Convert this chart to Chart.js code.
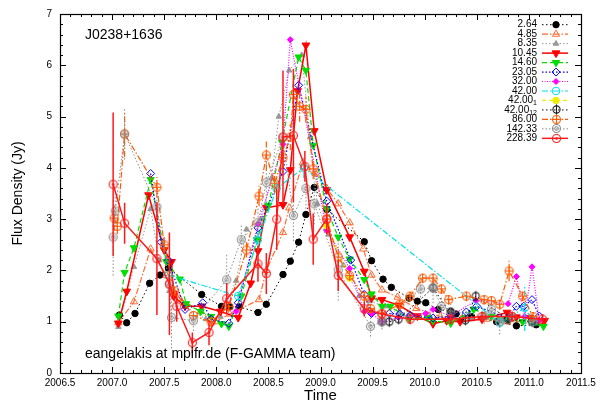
<!DOCTYPE html>
<html><head><meta charset="utf-8">
<script src="https://cdn.jsdelivr.net/npm/chart.js@4.4.1/dist/chart.umd.min.js"></script>
<style>html,body{margin:0;padding:0;background:#fff}canvas{display:block}</style>
</head><body>
<canvas id="c" width="605" height="405"></canvas>
<script>
// ---------------- data (time in years, flux density in Jy) ----------------
const sourceName = 'J0238+1636';
const creditText = 'eangelakis at mpifr.de (F-GAMMA team)';
const xTitle = 'Time';
const yTitle = 'Flux Density (Jy)';
const seriesLabels = ['2.64','4.85','8.35','10.45','14.60','23.05','32.00','42.00','42.00\u2081','42.00\u2081\u2082','86.00','142.33','228.39'];
const xRange = [2006.5, 2011.5];
const yRange = [0, 7];

const f2_64 = [[2007.07,1.13],[2007.14,0.98],[2007.22,1.16],[2007.36,1.75],[2007.46,1.91],[2007.54,2.05],[2007.86,1.53],[2008.05,1.30],[2008.13,1.29],[2008.22,1.29],[2008.40,1.18],[2008.48,1.34],[2008.64,1.92],[2008.71,2.18],[2008.79,2.55],[2008.86,3.09],[2008.94,3.62],[2009.06,3.19],[2009.42,2.56],[2009.49,2.19],[2009.60,1.83],[2009.68,1.67],[2009.85,1.46],[2009.93,1.40],[2010.01,1.37],[2010.13,1.24],[2010.25,1.20],[2010.30,1.15],[2010.45,1.10],[2010.69,1.00],[2010.88,0.92],[2011.07,0.94]];
const f4_85 = [[2007.06,0.98],[2007.21,1.39],[2007.37,2.42],[2007.52,1.90],[2007.65,1.45],[2007.85,1.20],[2007.99,1.00],[2008.13,1.15],[2008.41,1.43],[2008.48,2.00],[2008.64,2.74],[2008.70,3.22],[2008.83,4.10],[2008.95,3.90],[2009.06,3.60],[2009.17,3.30],[2009.28,2.93],[2009.41,2.42],[2009.49,1.91],[2009.59,1.62],[2009.74,1.48],[2009.92,1.26],[2010.15,1.10],[2010.35,1.05],[2010.59,1.05],[2010.79,1.00],[2011.10,1.00]];
const f8_35 = [[2007.06,0.90],[2007.21,2.07],[2007.37,3.20],[2007.45,2.20],[2007.55,1.60],[2007.70,1.30],[2007.90,1.05],[2008.04,1.10],[2008.19,1.80],[2008.29,2.80],[2008.43,3.00],[2008.53,3.80],[2008.60,5.00],[2008.70,5.90],[2008.82,6.20],[2008.90,4.60],[2008.97,3.30],[2009.08,2.70],[2009.22,2.10],[2009.37,1.50],[2009.47,1.40],[2009.62,1.30],[2009.76,1.20],[2009.86,1.15],[2010.05,1.10],[2010.25,1.10],[2010.45,1.05],[2010.75,1.05],[2010.95,1.00]];
const f10_45 = [[2007.06,0.97],[2007.14,1.59],[2007.35,3.47],[2007.50,2.40],[2007.57,2.17],[2007.59,1.50],[2007.70,1.30],[2007.86,1.30],[2008.04,1.20],[2008.21,1.08],[2008.33,1.75],[2008.40,2.38],[2008.48,3.22],[2008.64,3.28],[2008.71,3.96],[2008.78,5.50],[2008.86,6.39],[2008.94,4.72],[2009.06,3.57],[2009.28,2.65],[2009.42,1.98],[2009.49,1.46],[2009.59,1.43],[2009.75,1.32],[2009.93,1.11],[2010.08,0.96],[2010.21,1.02],[2010.34,1.00],[2010.55,1.05],[2010.79,1.18],[2010.88,1.09],[2011.01,1.08],[2011.15,1.02]];
const f14_60 = [[2007.06,1.11],[2007.12,1.96],[2007.21,2.44],[2007.37,3.77],[2007.52,2.17],[2007.65,1.83],[2007.71,1.35],[2007.85,1.20],[2007.95,1.10],[2008.05,0.96],[2008.12,0.91],[2008.24,1.50],[2008.39,2.60],[2008.50,3.27],[2008.63,4.50],[2008.79,6.16],[2008.86,5.90],[2008.93,4.44],[2009.06,3.20],[2009.17,2.65],[2009.28,2.22],[2009.42,1.82],[2009.49,1.54],[2009.59,1.30],[2009.67,1.30],[2009.85,1.05],[2010.03,1.08],[2010.08,1.02],[2010.25,0.97],[2010.47,1.24],[2010.64,1.10],[2010.79,1.05],[2010.94,1.00],[2011.14,0.91]];
const f23_05 = [[2007.37,3.89],[2007.47,2.55],[2007.54,2.20],[2007.70,1.24],[2007.87,1.37],[2007.95,1.05],[2008.12,0.97],[2008.21,1.37],[2008.40,2.83],[2008.64,3.93],[2008.79,5.61],[2009.06,3.35],[2009.29,2.20],[2009.42,1.53],[2009.49,1.16],[2009.66,1.16],[2009.76,1.15],[2009.86,1.12],[2010.08,1.07],[2010.25,1.10],[2010.40,1.19],[2010.50,1.30],[2010.80,1.07],[2010.88,1.30],[2010.95,1.30],[2011.03,1.43],[2011.10,1.11]];
const f32_00 = [[2008.19,1.20],[2008.40,2.90],[2008.64,4.46],[2008.71,6.50],[2009.06,2.78],[2009.28,2.04],[2009.42,1.20],[2009.49,1.16],[2009.59,1.00],[2009.75,1.08],[2010.01,1.16],[2010.08,1.24],[2010.25,1.11],[2010.49,1.41],[2010.80,1.35],[2010.88,1.88],[2010.96,1.10],[2011.03,2.07],[2011.10,1.03]];
const f42_00 = [[2007.54,1.91],[2008.21,1.50],[2008.40,2.60],[2008.58,3.60],[2008.84,4.00],[2010.72,0.98],[2010.96,1.27],[2011.04,1.00]];
const f42_00_1 = [[2009.06,2.87],[2009.28,1.85]];
const f42_00_12 = [[2009.59,1.00],[2009.66,1.00],[2009.75,1.05],[2010.08,1.66],[2010.25,1.15],[2010.39,1.03],[2010.49,1.50],[2010.80,1.05],[2011.03,1.00]];
const f86_00 = [[2007.02,3.02],[2007.05,2.86],[2007.12,4.66],[2007.43,3.62],[2007.50,2.50],[2007.60,1.60],[2007.78,1.12],[2007.95,1.00],[2008.12,1.30],[2008.29,2.40],[2008.41,3.45],[2008.48,4.25],[2008.56,3.70],[2008.64,4.20],[2008.71,4.60],[2008.74,5.43],[2008.80,5.20],[2008.86,5.14],[2008.93,3.98],[2009.06,3.00],[2009.17,2.26],[2009.28,1.90],[2009.42,1.50],[2009.48,1.26],[2009.59,1.16],[2009.76,1.34],[2009.86,1.50],[2009.98,1.85],[2010.08,1.85],[2010.16,1.64],[2010.23,1.43],[2010.40,1.50],[2010.57,1.43],[2010.64,1.41],[2010.72,1.34],[2010.81,1.99],[2010.94,1.50],[2011.04,1.10]];
const f142_33 = [[2007.01,2.65],[2007.03,3.16],[2007.12,4.66],[2007.43,3.24],[2007.55,1.72],[2007.57,1.08],[2007.78,1.02],[2008.10,1.82],[2008.24,2.60],[2008.40,2.93],[2008.48,3.72],[2008.64,4.60],[2008.74,3.07],[2008.86,3.60],[2008.94,3.30],[2009.17,2.01],[2009.48,0.91],[2009.59,1.00],[2009.96,1.64],[2010.08,1.66],[2010.16,1.30],[2010.25,1.20],[2010.57,1.11],[2010.64,1.24],[2010.72,1.00],[2010.84,1.10],[2011.04,1.00]];
const f228_39 = [[2007.01,3.68],[2007.12,2.92],[2007.43,2.23],[2007.55,1.74],[2007.62,1.30],[2007.77,0.59],[2007.93,0.79],[2008.10,1.45],[2008.40,2.13],[2008.48,1.94],[2008.58,3.00],[2008.64,4.60],[2008.74,4.63],[2008.85,4.03],[2008.93,2.61],[2009.06,3.00],[2009.17,1.90],[2009.42,1.25],[2009.59,1.15],[2009.86,1.05],[2010.25,1.05],[2010.55,1.10],[2010.84,1.10],[2011.13,1.05]];

// flux uncertainties (Jy), same order as the series points
const e42_00 = [0.1,0.1,0.2,0.2,0.2,0.1,0.45,0.1];
const e86_00 = [0.25,0.15,0.45,0.2,0.15,0.1,0.1,0.1,0.1,0.15,0.2,0.3,0.2,0.2,0.25,0.3,0.3,0.25,0.2,0.15,0.15,0.1,0.1,0.1,0.1,0.1,0.1,0.1,0.1,0.1,0.1,0.1,0.1,0.1,0.1,0.2,0.1,0.1];
const e142_33 = [0.75,0.3,0.5,0.3,0.3,0.6,0.2,0.5,0.3,0.3,0.4,0.5,0.5,0.4,0.4,0.6,0.2,0.15,0.3,0.3,0.2,0.15,0.15,0.2,0.25,0.1,0.1];
const e228_39 = [1.4,0.4,1.1,1.0,0.3,0.2,0.25,0.3,0.35,0.4,0.6,1.3,1.3,0.3,0.5,0.3,0.3,0.15,0.1,0.1,0.1,0.1,0.1,0.1];

const seriesData = [f2_64,f4_85,f8_35,f10_45,f14_60,f23_05,f32_00,f42_00,f42_00_1,f42_00_12,f86_00,f142_33,f228_39];
const seriesErrors = [null,null,null,null,null,null,null,e42_00,null,null,e86_00,e142_33,e228_39];

// ---------------- styles ----------------
const FONT = '"Liberation Sans", Arial, Helvetica, sans-serif';
function makeMarker(kind, color, r) {
  const s = Math.ceil(2 * r + 5);
  const c = document.createElement('canvas'); c.width = s; c.height = s;
  const g = c.getContext('2d'); const m = s / 2;
  g.strokeStyle = color; g.fillStyle = color; g.lineWidth = 1.1;
  g.beginPath(); g.arc(m, m, r, 0, Math.PI * 2); g.stroke();
  if (kind === 'bar') { g.beginPath(); g.moveTo(m, m - r - 1.5); g.lineTo(m, m + r + 1.5); g.stroke(); }
  if (kind === 'plus') { g.beginPath(); g.moveTo(m - r, m); g.lineTo(m + r, m); g.moveTo(m, m - r); g.lineTo(m, m + r); g.stroke(); }
  if (kind === 'dot') { g.beginPath(); g.arc(m, m, 1.3, 0, Math.PI * 2); g.fill(); }
  if (kind === 'ring') { g.beginPath(); g.arc(m, m, r * 0.45, 0, Math.PI * 2); g.stroke(); }
  return c;
}
const DASHDOT = [6, 2, 1.5, 2];
const styles = [
  {c:'#000000', w:1,   dash:[1.5,2.5], ps:'circle',   r:3.2, fill:true},
  {c:'#ff6a33', w:1.2, dash:DASHDOT,   ps:'triangle', r:4.2, fill:false},
  {c:'#999999', w:1,   dash:[1.5,2],   ps:'triangle', r:3.2, fill:true},
  {c:'#ff0000', w:1.5, dash:[],        ps:'triangle', r:4.5, fill:true, rot:180},
  {c:'#00dd00', w:1.2, dash:[5,3],     ps:'triangle', r:4.2, fill:true, rot:180},
  {c:'#0000ff', w:1.2, dash:[1.5,2],   ps:'rectRot',  r:4,   fill:false},
  {c:'#ff00ff', w:1.2, dash:[1,1.5],   ps:'rectRot',  r:3,   fill:true},
  {c:'#00e0e8', w:1.2, dash:DASHDOT,   ps:'circle',   r:3.8, fill:false},
  {c:'#eeee00', w:1.2, dash:[4,3],     ps:'circle',   r:3.2, fill:true},
  {c:'#000000', w:1,   dash:[1.5,2.5], ps:makeMarker('bar','#202020',3.6)},
  {c:'#ff5a00', w:1.2, dash:DASHDOT,   ps:makeMarker('plus','#ff5a00',4)},
  {c:'#8c8c8c', w:1,   dash:[1.5,2],   ps:makeMarker('ring','#8c8c8c',4)},
  {c:'#ff1a1a', w:1.5, dash:[],        ps:makeMarker('dot','#ff1a1a',4)}
];

const datasets = seriesData.map((d, i) => {
  const st = styles[i];
  return {
    label: seriesLabels[i],
    data: d.map(p => ({x: p[0], y: p[1]})),
    errors: seriesErrors[i],
    showLine: true, tension: 0, fill: false,
    borderColor: st.c, borderWidth: st.w, borderDash: st.dash,
    pointStyle: st.ps, pointRadius: st.r || 4, pointRotation: st.rot || 0,
    pointBackgroundColor: st.fill ? st.c : 'rgba(0,0,0,0)',
    pointBorderColor: st.c, pointBorderWidth: 1,
    order: seriesData.length - 1 - i
  };
});

// ---------------- plugins ----------------
const errorBars = {
  id: 'errorBars',
  afterDatasetDraw(chart, args) {
    const ds = chart.data.datasets[args.index];
    if (!ds.errors) return;
    const {ctx, chartArea: a, scales: {x, y}} = chart;
    ctx.save();
    ctx.beginPath(); ctx.rect(a.left, a.top, a.right - a.left, a.bottom - a.top); ctx.clip();
    ctx.strokeStyle = ds.borderColor; ctx.lineWidth = ds.borderWidth; ctx.setLineDash(ds.borderDash || []);
    ds.data.forEach((p, j) => {
      const e = ds.errors[j]; if (!e) return;
      const px = x.getPixelForValue(p.x);
      ctx.beginPath(); ctx.moveTo(px, y.getPixelForValue(p.y - e)); ctx.lineTo(px, y.getPixelForValue(p.y + e)); ctx.stroke();
    });
    ctx.restore();
  }
};

const frame = {
  id: 'frame',
  afterDraw(chart) {
    const {ctx, chartArea: a, scales: {x, y}} = chart;
    ctx.save(); ctx.strokeStyle = '#000'; ctx.lineWidth = 1; ctx.setLineDash([]);
    ctx.beginPath();
    const nx = Math.round((xRange[1] - xRange[0]) / 0.1);
    for (let k = 0; k <= nx; k++) {
      const px = Math.round(x.getPixelForValue(xRange[0] + k * 0.1)) + 0.5; const L = (k % 5 === 0) ? 6 : 3;
      ctx.moveTo(px, a.bottom); ctx.lineTo(px, a.bottom - L); ctx.moveTo(px, a.top); ctx.lineTo(px, a.top + L);
    }
    const ny = Math.round((yRange[1] - yRange[0]) / 0.2);
    for (let k = 0; k <= ny; k++) {
      const py = Math.round(y.getPixelForValue(yRange[0] + k * 0.2)) + 0.5; const L = (k % 5 === 0) ? 6 : 3;
      ctx.moveTo(a.left, py); ctx.lineTo(a.left + L, py); ctx.moveTo(a.right, py); ctx.lineTo(a.right - L, py);
    }
    ctx.stroke();
    ctx.lineWidth = 1.2;
    ctx.strokeRect(Math.round(a.left) + 0.5, Math.round(a.top) + 0.5, Math.round(a.right - a.left), Math.round(a.bottom - a.top));
    ctx.restore();
  }
};

function drawMarker(ctx, ds, x, y) {
  const ps = ds.pointStyle;
  if (ps instanceof HTMLCanvasElement) { ctx.drawImage(ps, Math.round(x - ps.width / 2), Math.round(y - ps.height / 2)); return; }
  ctx.save(); ctx.translate(x, y); ctx.rotate((ds.pointRotation || 0) * Math.PI / 180);
  ctx.fillStyle = ds.pointBackgroundColor; ctx.strokeStyle = ds.pointBorderColor; ctx.lineWidth = ds.pointBorderWidth; ctx.setLineDash([]);
  const r = ds.pointRadius; ctx.beginPath();
  if (ps === 'circle') ctx.arc(0, 0, r, 0, 2 * Math.PI);
  else if (ps === 'triangle') { ctx.moveTo(0, -r); ctx.lineTo(r * 0.866, r * 0.5); ctx.lineTo(-r * 0.866, r * 0.5); ctx.closePath(); }
  else if (ps === 'rectRot') { ctx.moveTo(0, -r); ctx.lineTo(r, 0); ctx.lineTo(0, r); ctx.lineTo(-r, 0); ctx.closePath(); }
  ctx.fill(); ctx.stroke(); ctx.restore();
}

// split a label into its main text and its subscript part (Unicode subscript digits)
const SUB = '\u2080\u2081\u2082\u2083\u2084\u2085\u2086\u2087\u2088\u2089';
function splitLabel(s) {
  let main = '', sub = '';
  for (const ch of s) { const k = SUB.indexOf(ch); if (k >= 0) sub += String(k); else main += ch; }
  return {main, sub};
}

const keyAndText = {
  id: 'keyAndText',
  afterDraw(chart) {
    const {ctx, chartArea: a} = chart;
    ctx.save();
    ctx.fillStyle = '#000';
    ctx.font = '14px ' + FONT; ctx.textAlign = 'left'; ctx.textBaseline = 'alphabetic';
    ctx.fillText(sourceName, a.left + 25, a.top + 25);
    ctx.fillText(creditText, a.left + 25, a.bottom - 15);
    // key
    ctx.textAlign = 'right'; ctx.textBaseline = 'middle';
    chart.data.datasets.forEach((ds, i) => {
      const yy = a.top + 10.7 + i * 9.47;
      const xr = a.right - 44;
      const {main, sub} = splitLabel(ds.label);
      ctx.fillStyle = '#000';
      let subW = 0;
      if (sub) {
        ctx.font = '7px ' + FONT;
        subW = ctx.measureText(sub).width;
        ctx.fillText(sub, xr, yy + 3);
      }
      ctx.font = '10px ' + FONT;
      ctx.fillText(main, xr - subW, yy);
      ctx.strokeStyle = ds.borderColor; ctx.lineWidth = ds.borderWidth; ctx.setLineDash(ds.borderDash || []);
      ctx.beginPath(); ctx.moveTo(a.right - 39, yy); ctx.lineTo(a.right - 13, yy); ctx.stroke();
      ctx.setLineDash([]);
      drawMarker(ctx, ds, a.right - 25, yy);
    });
    ctx.restore();
  }
};

// ---------------- chart ----------------
Chart.defaults.font.family = FONT;
Chart.defaults.color = '#000';
new Chart(document.getElementById('c'), {
  type: 'scatter',
  data: {datasets},
  options: {
    responsive: false, animation: false,
    layout: {padding: {left: 0, right: 24, top: 9, bottom: 0}},
    plugins: {legend: {display: false}, tooltip: {enabled: false}},
    scales: {
      x: {
        type: 'linear', min: xRange[0], max: xRange[1],
        grid: {display: false, drawTicks: false}, border: {display: false},
        ticks: {stepSize: 0.5, autoSkip: false, maxRotation: 0, padding: 4, font: {size: 10}, color: '#000',
                callback: v => Number(v).toFixed(1)},
        title: {display: true, text: xTitle, font: {size: 15}, color: '#000', padding: {top: 0, bottom: 0}},
        afterFit(s) { s.height = 32; }
      },
      y: {
        min: yRange[0], max: yRange[1],
        grid: {display: false, drawTicks: false}, border: {display: false},
        ticks: {stepSize: 1, padding: 8, font: {size: 10}, color: '#000', callback: v => String(v)},
        title: {display: true, text: yTitle, font: {size: 14}, color: '#000', padding: {top: 10, bottom: 0}},
        afterFit(s) { s.width = 60; }
      }
    }
  },
  plugins: [errorBars, frame, keyAndText]
});
</script>
</body></html>
